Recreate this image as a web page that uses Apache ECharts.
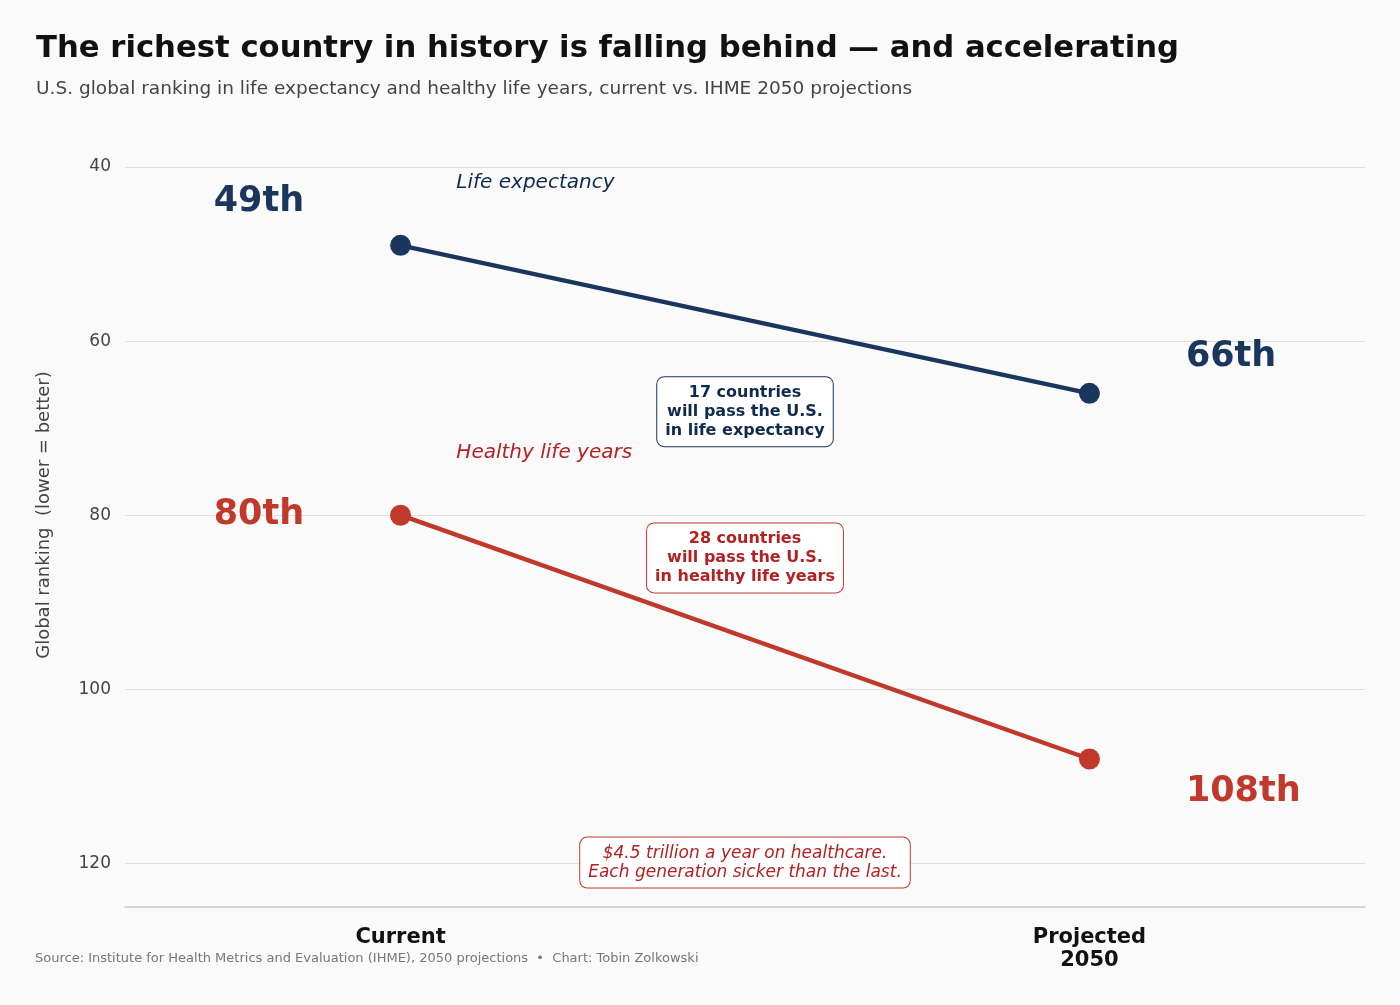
<!DOCTYPE html>
<html>
<head>
<meta charset="utf-8">
<script src="https://cdn.jsdelivr.net/npm/echarts@6/dist/echarts.min.js"></script>
<style>
  html, body { margin: 0; padding: 0; background: #fafafa; }
  #main { width: 1400px; height: 1005px; }
</style>
</head>
<body>
<div id="main"></div>
<script>
var FONT = 'DejaVu Sans';
var NAVY = '#1b365d';
var RED = '#c0392b';

// data
var stages = ['Current', 'Projected\n2050'];
var lifeExpectancy = [49, 66];
var healthyLifeYears = [80, 108];
var yTicks = [40, 60, 80, 100, 120];

var chartDom = document.getElementById('main');
var myChart = echarts.init(chartDom);

function ordinal(n) {
  return n + 'th';
}

function lineData(values) {
  return values.map(function (v, i) { return [i, v]; });
}

var option = {
  backgroundColor: '#fafafa',
  textStyle: { fontFamily: FONT },
  title: {
    text: 'The richest country in history is falling behind \u2014 and accelerating',
    subtext: 'U.S. global ranking in life expectancy and healthy life years, current vs. IHME 2050 projections',
    left: 31,
    top: 29,
    itemGap: 15,
    textStyle: { fontFamily: FONT, fontSize: 30.7, fontWeight: 'bold', color: '#111' },
    subtextStyle: { fontFamily: FONT, fontSize: 18.5, color: '#444' }
  },
  grid: { left: 125, right: 35, top: 167, bottom: 98 },
  xAxis: {
    type: 'value',
    min: -0.4,
    max: 1.4,
    interval: 0.2,
    axisLine: { onZero: false, lineStyle: { color: '#d0d0d0', width: 1.5 } },
    axisTick: { show: false },
    splitLine: { show: false },
    axisLabel: {
      margin: 19,
      fontFamily: FONT,
      fontSize: 21,
      fontWeight: 'bold',
      color: '#111',
      lineHeight: 23,
      formatter: function (v) {
        for (var i = 0; i < stages.length; i++) {
          if (Math.abs(v - i) < 1e-6) return stages[i];
        }
        return '';
      }
    }
  },
  yAxis: {
    type: 'value',
    inverse: true,
    min: yTicks[0],
    max: 125,
    interval: 20,
    axisLine: { show: false },
    axisTick: { show: false },
    splitLine: { lineStyle: { color: '#e0e0e0', width: 1 } },
    axisLabel: {
      margin: 14,
      fontFamily: FONT,
      fontSize: 17,
      color: '#444',
      formatter: function (v) {
        return yTicks.indexOf(v) >= 0 ? String(v) : '';
      }
    }
  },
  graphic: [
    {
      type: 'text',
      x: 44,
      y: 515,
      rotation: Math.PI / 2,
      style: {
        text: 'Global ranking  (lower = better)',
        fontFamily: FONT,
        fontSize: 18,
        fill: '#444',
        align: 'center',
        verticalAlign: 'middle'
      }
    },
    {
      type: 'text',
      left: 35,
      top: 952,
      style: {
        text: 'Source: Institute for Health Metrics and Evaluation (IHME), 2050 projections  \u2022  Chart: Tobin Zolkowski',
        fontFamily: FONT,
        fontSize: 13,
        fill: '#777'
      }
    }
  ],
  series: [
    {
      name: 'Life expectancy',
      type: 'line',
      data: lineData(lifeExpectancy),
      symbol: 'circle',
      symbolSize: 21,
      lineStyle: { color: NAVY, width: 4.5 },
      itemStyle: { color: NAVY },
      z: 3
    },
    {
      name: 'Healthy life years',
      type: 'line',
      data: lineData(healthyLifeYears),
      symbol: 'circle',
      symbolSize: 21,
      lineStyle: { color: RED, width: 4.5 },
      itemStyle: { color: RED },
      z: 3
    },
    {
      // rank labels beside the endpoints
      type: 'scatter',
      symbolSize: 0,
      silent: true,
      itemStyle: { opacity: 1 },
      data: [
        { value: [-0.14, lifeExpectancy[0] - 5], name: ordinal(lifeExpectancy[0]), c: NAVY, side: 'left' },
        { value: [-0.14, healthyLifeYears[0]], name: ordinal(healthyLifeYears[0]), c: RED, side: 'left' },
        { value: [1.14, lifeExpectancy[1] - 4.2], name: ordinal(lifeExpectancy[1]), c: NAVY, side: 'right' },
        { value: [1.14, healthyLifeYears[1] + 3.8], name: ordinal(healthyLifeYears[1]), c: RED, side: 'right' }
      ].map(function (d) {
        return {
          value: d.value,
          name: d.name,
          label: {
            show: true,
            position: d.side,
            distance: 0,
            formatter: '{b}',
            fontFamily: FONT,
            fontSize: 35,
            fontWeight: 'bold',
            color: d.c
          }
        };
      })
    },
    {
      // series names
      type: 'scatter',
      symbolSize: 0,
      silent: true,
      itemStyle: { opacity: 1 },
      data: [
        { value: [0.081, 41.8], name: 'Life expectancy', c: '#0f2a4f' },
        { value: [0.081, 72.8], name: 'Healthy life years', c: '#b22222' }
      ].map(function (d) {
        return {
          value: d.value,
          name: d.name,
          label: {
            show: true,
            position: 'right',
            distance: 0,
            formatter: '{b}',
            fontFamily: FONT,
            fontSize: 20,
            fontStyle: 'italic',
            color: d.c
          }
        };
      })
    },
    {
      // callout boxes
      type: 'scatter',
      symbolSize: 0,
      silent: true,
      itemStyle: { opacity: 1 },
      data: [
        { value: [0.5, 68.1], name: '17 countries\nwill pass the U.S.\nin life expectancy', c: '#0f2a4f', b: NAVY, bold: true },
        { value: [0.5, 84.9], name: '28 countries\nwill pass the U.S.\nin healthy life years', c: '#b22222', b: RED, bold: true },
        { value: [0.5, 119.9], name: '$4.5 trillion a year on healthcare.\nEach generation sicker than the last.', c: '#b22222', b: RED, bold: false }
      ].map(function (d) {
        return {
          value: d.value,
          name: d.name,
          label: {
            show: true,
            position: 'inside',
            formatter: '{b}',
            align: 'center',
            verticalAlign: 'middle',
            fontFamily: FONT,
            fontSize: d.bold ? 16 : 17,
            lineHeight: 19,
            fontWeight: d.bold ? 'bold' : 'normal',
            fontStyle: d.bold ? 'normal' : 'italic',
            color: d.c,
            backgroundColor: '#ffffff',
            borderColor: d.b,
            borderWidth: 1,
            borderRadius: 7,
            padding: [6, 8, 6, 8]
          }
        };
      }),
      z: 5
    }
  ]
};

option && myChart.setOption(option);
</script>
</body>
</html>
